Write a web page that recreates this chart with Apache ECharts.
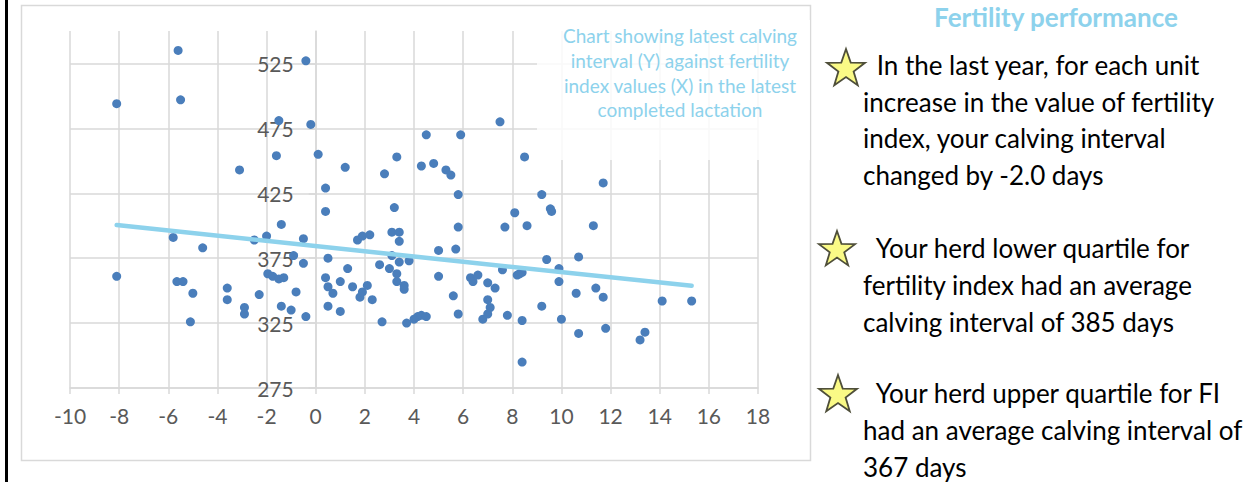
<!DOCTYPE html>
<html>
<head>
<meta charset="utf-8">
<title>Fertility performance</title>
<script src="https://cdn.jsdelivr.net/npm/echarts@6/dist/echarts.min.js"></script>
<style>
  html, body { margin: 0; padding: 0; background: #ffffff; }
  #chart { width: 1251px; height: 483px; }
</style>
</head>
<body>
<div id="chart"></div>
<script>
// Fertility index (X) of each cow in her latest completed lactation
const fertilityIndex = [
  -8.1, -8.1, -5.6, -5.5, -5.8, -5.65, -5.4, -5.0, -5.1, -4.6,
  -3.6, -3.6, -3.1, -2.9, -2.9, -2.5, -2.3, -2.0, -1.95, -1.75,
  -1.5, -1.3, -1.6, -1.5, -1.4, -1.4, -1.0, -0.9, -0.8, -0.5,
  -0.5, -0.4, -0.4, -0.2, 0.1, 0.4, 0.4, 0.4, 0.5, 0.5,
  0.7, 0.5, 1.0, 1.0, 1.2, 1.3, 1.5, 1.7, 1.9, 2.2,
  1.8, 1.9, 2.1, 2.3, 2.6, 2.7, 2.8, 3.0, 3.1, 3.1,
  3.4, 3.4, 3.2, 3.3, 3.4, 3.3, 3.3, 3.6, 3.6, 3.8,
  3.7, 4.0, 4.15, 4.3, 4.5, 4.3, 4.5, 4.8, 5.0, 5.0,
  5.3, 5.5, 5.6, 5.7, 5.8, 5.8, 5.8, 5.9, 6.3, 6.4,
  6.6, 6.8, 7.0, 7.0, 7.1, 7.0, 7.3, 7.5, 7.6, 7.7,
  7.8, 8.1, 8.2, 8.3, 8.4, 8.4, 8.4, 8.5, 8.6, 9.2,
  9.2, 9.4, 9.55, 9.6, 9.9, 9.9, 10.0, 10.6, 10.7, 10.7,
  11.3, 11.4, 11.7, 11.7, 11.8, 13.2, 13.4, 14.1, 15.3
];

// Latest calving interval (Y, days) for the same cows
const calvingInterval = [
  494, 361, 535, 497, 391, 357, 357, 348, 326, 383,
  352, 343, 443, 337, 332, 389, 347, 392, 363, 361,
  359, 360, 454, 481, 401, 338, 335, 377, 349, 390,
  371, 527, 330, 478, 455, 429, 411, 360, 375, 353,
  348, 338, 357, 334, 445, 367, 353, 389, 392, 393,
  345, 349, 354, 343, 370, 326, 440, 367, 377, 395,
  395, 388, 414, 453, 372, 363, 357, 354, 351, 373,
  325, 328, 330, 331, 330, 446, 470, 448, 381, 361,
  443, 439, 346, 382, 399, 424, 332, 470, 360, 357,
  362, 328, 356, 343, 337, 332, 352, 480, 366, 399,
  331, 410, 362, 363, 364, 327, 295, 453, 400, 424,
  338, 374, 413, 411, 367, 357, 328, 348, 376, 317,
  400, 352, 433, 345, 321, 312, 318, 342, 342
];

// Axis ticks
const xTicks = [-10, -8, -6, -4, -2, 0, 2, 4, 6, 8, 10, 12, 14, 16, 18];
const yTicks = [275, 325, 375, 425, 475, 525];
const yTop = 550;

// Linear trend: days of calving interval per unit of fertility index
const trendSlope = -2.0;
const trendIntercept = 384.3;

// Texts
const chartNote = [
  'Chart showing latest calving',
  'interval (Y) against fertility',
  'index values (X) in the latest',
  'completed lactation'
];
const panelTitle = 'Fertility performance';
const panelParagraphs = [
  ['In the last year, for each unit', 'increase in the value of fertility', 'index, your calving interval', 'changed by -2.0 days'],
  ['Your herd lower quartile for', 'fertility index had an average', 'calving interval of 385 days'],
  ['Your herd upper quartile for FI', 'had an average calving interval of', '367 days']
];

// ---- build series data ----
const points = fertilityIndex.map((x, i) => [x, calvingInterval[i]]);
const xLo = Math.min(...fertilityIndex);
const xHi = Math.max(...fertilityIndex);
const trendPoints = [xLo, xHi].map(x => [x, trendIntercept + trendSlope * x]);

// ---- layout of the decorations ----
const FONT = 'Lato, "Open Sans", sans-serif';
const CHART_W = 1251;
const GRID = { left: 70, right: 493, top: 31, bottom: 95 };
const gridColor = '#d9d9d9';
const labelColor = '#595959';
const accent = '#8dd2ec';

// the value axis crosses the horizontal axis at x = 0
const xMin = xTicks[0], xMax = xTicks[xTicks.length - 1];
const plotW = CHART_W - GRID.left - GRID.right;
const yAxisOffset = -((0 - xMin) / (xMax - xMin)) * plotW;

function starPoints(cx, cy, R) {
  const pts = [];
  const r = R * 0.40;
  for (let k = 0; k < 10; k++) {
    const rad = (k % 2 === 0) ? R : r;
    const a = -Math.PI / 2 + k * Math.PI / 5;
    pts.push([cx + rad * Math.cos(a), cy + rad * Math.sin(a)]);
  }
  return pts;
}

const graphics = [];

// dark rule on the far left
graphics.push({ type: 'rect', shape: { x: 5, y: 0, width: 3, height: 482 }, style: { fill: '#000000' }, z: 1 });

// chart frame
graphics.push({ type: 'rect', shape: { x: 21.5, y: 5.5, width: 789, height: 455 },
  style: { fill: 'none', stroke: gridColor, lineWidth: 1.5 }, z: 1, silent: true });

// note box over the plot (white, slightly see-through)
graphics.push({ type: 'rect', shape: { x: 537, y: 20, width: 273, height: 140 },
  style: { fill: 'rgba(255,255,255,0.82)' }, z: 10, silent: true });
const noteY = [35, 60, 85, 109.5];
chartNote.forEach((line, i) => {
  graphics.push({ type: 'text', z: 11, silent: true,
    style: { text: line, x: 680, y: noteY[i], fill: accent, font: '19px ' + FONT,
      textAlign: 'center', textVerticalAlign: 'middle' } });
});

// side panel
graphics.push({ type: 'text', z: 11, silent: true,
  style: { text: panelTitle, x: 1056, y: 17, fill: accent, font: 'bold 26px ' + FONT,
    textAlign: 'center', textVerticalAlign: 'middle' } });

const paraLineY = [
  [65, 101.7, 138.3, 175],
  [248, 285, 321.5],
  [393, 430, 467]
];
const starCentres = [[846, 67, 20], [837, 248, 19], [838, 393, 20]];
panelParagraphs.forEach((lines, p) => {
  const [sx, sy, sr] = starCentres[p];
  graphics.push({ type: 'polygon', z: 11, silent: true,
    shape: { points: starPoints(sx, sy + 2, sr) },
    style: { fill: '#fafa86', stroke: '#4f4f3a', lineWidth: 1.8, lineJoin: 'miter' } });
  lines.forEach((line, i) => {
    graphics.push({ type: 'text', z: 11, silent: true,
      style: { text: (i === 0 ? ' ' : '') + line, x: i === 0 ? 870 : 863, y: paraLineY[p][i],
        fill: '#000000', font: '26px ' + FONT, textAlign: 'left', textVerticalAlign: 'middle' } });
  });
});

const chart = echarts.init(document.getElementById('chart'), null, { renderer: 'svg' });
chart.setOption({
  animation: false,
  backgroundColor: '#ffffff',
  grid: Object.assign({ outerBoundsMode: 'none', containLabel: false }, GRID),
  xAxis: {
    type: 'value',
    min: xMin,
    max: xMax,
    interval: xTicks[1] - xTicks[0],
    axisLine: { show: true, onZero: false, lineStyle: { color: gridColor, width: 1.5 } },
    axisTick: { show: true, length: 6, lineStyle: { color: gridColor, width: 1.5 } },
    axisLabel: { color: labelColor, fontSize: 21, fontFamily: FONT, margin: 17 },
    splitLine: { show: true, lineStyle: { color: gridColor, width: 1.5 } }
  },
  yAxis: {
    type: 'value',
    position: 'left',
    offset: yAxisOffset,
    min: yTicks[0],
    max: yTop,
    interval: yTicks[1] - yTicks[0],
    axisLine: { show: true, onZero: false, lineStyle: { color: gridColor, width: 1.5 } },
    axisTick: { show: true, inside: false, length: 7, lineStyle: { color: gridColor, width: 1.5 } },
    axisLabel: { color: labelColor, fontSize: 21, fontFamily: FONT, margin: 22, showMaxLabel: false },
    splitLine: { show: true, showMaxLine: false, lineStyle: { color: gridColor, width: 1.5 } }
  },
  series: [
    {
      type: 'scatter',
      data: points,
      symbol: 'circle',
      symbolSize: 9,
      itemStyle: { color: '#4a7ebb', opacity: 1 },
      z: 3
    },
    {
      type: 'line',
      data: trendPoints,
      symbol: 'none',
      lineStyle: { color: accent, width: 4.5, cap: 'round' },
      z: 4
    }
  ],
  graphic: graphics
});
</script>
</body>
</html>
